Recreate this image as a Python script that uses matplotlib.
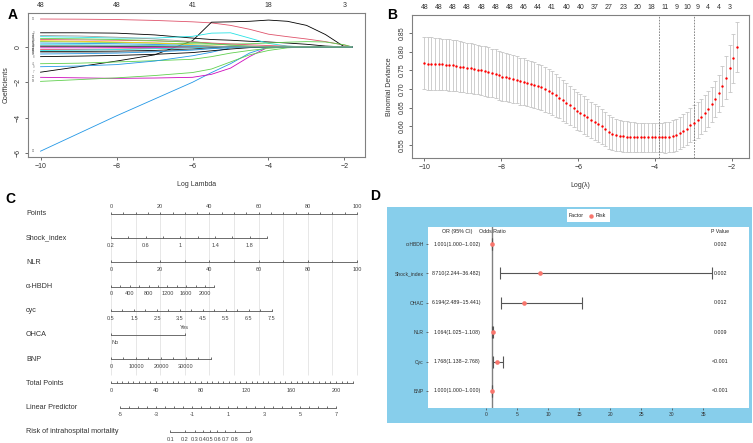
import numpy as np
import matplotlib
matplotlib.use("Agg")
import matplotlib.pyplot as plt
from matplotlib.patches import Rectangle
from matplotlib.lines import Line2D

plt.rcParams["font.family"] = ["Liberation Sans", "DejaVu Sans"]

# ---------------- A: lasso coefficient paths ----------------
lasso_loglam = [-10, -9, -8, -7, -6, -5.5, -5, -4.5, -4, -3.5, -3, -2.5, -2, -1.8]
coef_paths = [
    [1.58, 1.57, 1.55, 1.50, 1.42, 1.36, 1.22, 1.00, 0.72, 0.58, 0.45, 0.30, 0.10, 0.00],
    [-1.43, -1.12, -0.80, -0.45, 0.35, 1.40, 1.42, 1.45, 1.52, 1.45, 1.22, 0.70, 0.00, 0.00],
    [-5.90, -4.90, -3.90, -2.95, -2.00, -1.45, -0.95, -0.35, 0.00, 0.00, 0.00, 0.00, 0.00, 0.00],
    [-1.72, -1.75, -1.78, -1.76, -1.72, -1.55, -1.20, -0.55, 0.00, 0.00, 0.00, 0.00, 0.00, 0.00],
    [-1.95, -1.85, -1.75, -1.62, -1.45, -1.25, -0.85, -0.45, -0.20, -0.05, 0.00, 0.00, 0.00, 0.00],
    [-0.95, -0.92, -0.85, -0.78, -0.70, -0.55, -0.35, -0.20, -0.08, 0.00, 0.00, 0.00, 0.00, 0.00],
    [-1.12, -1.08, -1.00, -0.80, -0.50, -0.30, -0.05, 0.00, 0.00, 0.00, 0.00, 0.00, 0.00, 0.00],
    [0.80, 0.80, 0.78, 0.68, 0.50, 0.42, 0.38, 0.32, 0.28, 0.22, 0.15, 0.05, 0.00, 0.00],
    [0.58, 0.55, 0.50, 0.50, 0.60, 0.78, 0.80, 0.50, 0.20, 0.05, 0.00, 0.00, 0.00, 0.00],
    [0.30, 0.28, 0.25, 0.22, 0.18, 0.16, 0.16, 0.18, 0.22, 0.27, 0.30, 0.28, 0.12, 0.00],
    [0.65, 0.62, 0.55, 0.45, 0.30, 0.20, 0.10, 0.05, 0.00, 0.00, 0.00, 0.00, 0.00, 0.00],
    [0.42, 0.40, 0.38, 0.34, 0.28, 0.22, 0.17, 0.12, 0.08, 0.04, 0.00, 0.00, 0.00, 0.00],
    [0.35, 0.32, 0.28, 0.22, 0.12, 0.06, 0.02, 0.00, 0.00, 0.00, 0.00, 0.00, 0.00, 0.00],
    [0.22, 0.20, 0.18, 0.14, 0.08, 0.04, 0.00, 0.00, 0.00, 0.00, 0.00, 0.00, 0.00, 0.00],
    [0.12, 0.12, 0.10, 0.08, 0.04, 0.02, 0.00, 0.00, 0.00, 0.00, 0.00, 0.00, 0.00, 0.00],
    [0.04, 0.04, 0.03, 0.02, 0.01, 0.00, 0.00, 0.00, 0.00, 0.00, 0.00, 0.00, 0.00, 0.00],
    [-0.05, -0.05, -0.04, -0.03, -0.02, 0.00, 0.00, 0.00, 0.00, 0.00, 0.00, 0.00, 0.00, 0.00],
    [-0.15, -0.14, -0.12, -0.08, -0.04, -0.02, 0.00, 0.00, 0.00, 0.00, 0.00, 0.00, 0.00, 0.00],
    [-0.25, -0.25, -0.24, -0.20, -0.12, -0.05, 0.00, 0.00, 0.00, 0.00, 0.00, 0.00, 0.00, 0.00],
    [-0.32, -0.32, -0.30, -0.25, -0.15, -0.08, -0.03, 0.00, 0.00, 0.00, 0.00, 0.00, 0.00, 0.00],
    [-0.40, -0.38, -0.35, -0.28, -0.18, -0.10, -0.04, 0.00, 0.00, 0.00, 0.00, 0.00, 0.00, 0.00],
    [-0.55, -0.52, -0.48, -0.42, -0.32, -0.22, -0.12, -0.04, 0.00, 0.00, 0.00, 0.00, 0.00, 0.00],
    [-0.20, -0.18, -0.15, -0.10, -0.05, 0.00, 0.00, 0.00, 0.00, 0.00, 0.00, 0.00, 0.00, 0.00],
    [0.48, 0.46, 0.42, 0.36, 0.26, 0.18, 0.10, 0.04, 0.00, 0.00, 0.00, 0.00, 0.00, 0.00],
    [0.08, 0.07, 0.06, 0.05, 0.03, 0.01, 0.00, 0.00, 0.00, 0.00, 0.00, 0.00, 0.00, 0.00],
]
path_colors = ["#DF536B", "black", "#2297E6", "#CD0BBC", "#61D04F", "#61D04F", "#2297E6",
               "black", "#28E2E5", "#61D04F", "#9E9E9E", "#DF536B", "#F5C710", "#2297E6",
               "#28E2E5", "black", "#CD0BBC", "#DF536B", "black", "#9E9E9E", "#2297E6",
               "black", "#28E2E5", "#61D04F", "#9E9E9E"]
path_labels = ["12", "7", "30", "25", "18", "41", "9", "3", "22", "15", "33", "5", "27",
               "11", "44", "2", "38", "20", "14", "46", "29", "8", "36", "19", "48"]
a_top_at = [-10, -8, -6, -4, -2]
a_top_nz = ["48", "48", "41", "18", "3"]

# ---------------- B: cross-validation curve ----------------
cv_loglam = [-10.00, -9.91, -9.82, -9.72, -9.63, -9.54, -9.45, -9.35, -9.26, -9.17,
             -9.08, -8.99, -8.89, -8.80, -8.71, -8.62, -8.52, -8.43, -8.34, -8.25,
             -8.15, -8.06, -7.97, -7.88, -7.79, -7.69, -7.60, -7.51, -7.42, -7.32,
             -7.23, -7.14, -7.05, -6.96, -6.86, -6.77, -6.68, -6.59, -6.49, -6.40,
             -6.31, -6.22, -6.12, -6.03, -5.94, -5.85, -5.76, -5.66, -5.57, -5.48,
             -5.39, -5.29, -5.20, -5.11, -5.02, -4.92, -4.83, -4.74, -4.65, -4.56,
             -4.46, -4.37, -4.28, -4.19, -4.09, -4.00, -3.91, -3.82, -3.73, -3.63,
             -3.54, -3.45, -3.36, -3.26, -3.17, -3.08, -2.99, -2.89, -2.80, -2.71,
             -2.62, -2.53, -2.43, -2.34, -2.25, -2.16, -2.06, -1.97, -1.88]
cv_mean = [0.769, 0.768, 0.768, 0.767, 0.767, 0.766, 0.765, 0.764, 0.763, 0.762,
           0.760, 0.759, 0.757, 0.756, 0.754, 0.752, 0.750, 0.748, 0.745, 0.743,
           0.741, 0.736, 0.733, 0.731, 0.729, 0.726, 0.724, 0.721, 0.719, 0.716,
           0.713, 0.710, 0.707, 0.704, 0.699, 0.694, 0.689, 0.683, 0.677, 0.670,
           0.663, 0.656, 0.649, 0.642, 0.636, 0.630, 0.624, 0.617, 0.611, 0.605,
           0.600, 0.592, 0.585, 0.580, 0.577, 0.575, 0.573, 0.572, 0.571, 0.571,
           0.570, 0.570, 0.570, 0.570, 0.570, 0.570, 0.570, 0.570, 0.570, 0.571,
           0.574, 0.577, 0.583, 0.588, 0.594, 0.603, 0.610, 0.617, 0.626, 0.635,
           0.646, 0.659, 0.673, 0.688, 0.708, 0.730, 0.755, 0.782, 0.813]
cv_se = [0.070, 0.070, 0.070, 0.070, 0.069, 0.069, 0.069, 0.069, 0.068, 0.068,
         0.068, 0.068, 0.067, 0.067, 0.067, 0.066, 0.066, 0.066, 0.066, 0.065,
         0.065, 0.065, 0.065, 0.064, 0.064, 0.064, 0.063, 0.063, 0.063, 0.062,
         0.062, 0.062, 0.061, 0.061, 0.060, 0.059, 0.058, 0.057, 0.056, 0.055,
         0.054, 0.053, 0.052, 0.051, 0.050, 0.050, 0.049, 0.049, 0.048, 0.048,
         0.047, 0.046, 0.045, 0.044, 0.043, 0.042, 0.041, 0.041, 0.040, 0.040,
         0.040, 0.040, 0.040, 0.040, 0.040, 0.040, 0.040, 0.040, 0.041, 0.041,
         0.042, 0.042, 0.043, 0.044, 0.045, 0.046, 0.047, 0.048, 0.048, 0.048,
         0.048, 0.047, 0.047, 0.050, 0.054, 0.058, 0.062, 0.065, 0.067]
cv_nz_idx = [0, 4, 8, 12, 16, 20, 24, 28, 32, 36, 40, 44, 48, 52, 56, 60, 64, 68,
             71, 74, 77, 80, 83, 86]
cv_nz = ["48", "48", "48", "48", "48", "48", "48", "46", "44", "41", "40", "40",
         "37", "27", "23", "20", "18", "11", "9", "10", "9", "4", "4", "3"]
idx_min, idx_1se = 66, 76

# ---------------- C: nomogram ----------------
nomo_vars = ["Shock_index", "NLR", "α-HBDH", "cyc", "BNP"]
nomo_rows = [1, 2, 3, 4, 6]
nomo_value_range = [(0.2, 2.0), (0, 100), (0, 2200), (0.5, 7.5), (0, 40000)]
nomo_point_range = [(0, 63.5), (0, 100), (0, 42.0), (0, 65.4), (0, 40.6)]
nomo_tick_step = [0.2, 10, 200, 0.5, 5000]
nomo_labels = [[0.2, 0.6, 1.0, 1.4, 1.8],
               [0, 20, 40, 60, 80, 100],
               [0, 400, 800, 1200, 1600, 2000],
               [0.5, 1.5, 2.5, 3.5, 4.5, 5.5, 6.5, 7.5],
               [0, 10000, 20000, 30000]]
ohca_levels = ["No", "Yes"]
ohca_points = [0, 30]
total_points_max = 218.7
total_labels = [0, 40, 80, 120, 160, 200]
lp_range = (-5, 7)
lp_labels = [-5, -3, -1, 1, 3, 5, 7]
lp_intercept, lp_slope = -5.5, 1 / 16.0     # LP = -5.5 + total/16
risk_labels = [0.1, 0.2, 0.3, 0.4, 0.5, 0.6, 0.7, 0.8, 0.9]
row_names = ["Points", "Shock_index", "NLR", "α-HBDH", "cyc", "OHCA", "BNP",
             "Total Points", "Linear Predictor", "Risk of intrahospital mortality"]

# ---------------- D: forest plot ----------------
forest_vars = ["α-HBDH", "Shock_index", "OHAC", "NLR", "Cyc", "BNP"]
forest_or = [1.001, 8.710, 6.194, 1.064, 1.768, 1.000]
forest_lo = [1.000, 2.244, 2.489, 1.025, 1.138, 1.000]
forest_hi = [1.002, 36.482, 15.441, 1.108, 2.768, 1.000]
forest_p = ["0.002", "0.002", "0.012", "0.009", "<0.001", "<0.001"]

W, H = 753, 443
fig = plt.figure(figsize=(W / 100, H / 100), dpi=100)


def px_axes(l, t, r, b, **kw):
    return fig.add_axes([l / W, 1 - b / H, (r - l) / W, (b - t) / H], **kw)


def r_style(ax):
    for s in ax.spines.values():
        s.set_color("#808080")
        s.set_linewidth(0.8)
    ax.tick_params(colors="#555555", labelcolor="#333333", labelsize=5, length=2.5,
                   width=0.6, pad=2)


# ---- panel A
ax = px_axes(28, 13, 365, 157)
for path, col in zip(coef_paths, path_colors):
    ax.plot(lasso_loglam, path, color=col, lw=0.6)
for path, lab in zip(coef_paths, path_labels):
    ax.text(-10.18, path[0], lab, fontsize=2.0, color="#666666", ha="center", va="center")
ax.set_xlim(-10.33, -1.46)
ax.set_ylim(-6.23, 1.92)
ax.set_xticks([-10, -8, -6, -4, -2])
ax.set_yticks([-6, -4, -2, 0])
r_style(ax)
plt.setp(ax.get_yticklabels(), rotation=90, va="center")
ax.set_xlabel("Log Lambda", fontsize=5, color="#333333", labelpad=8)
ax.set_ylabel("Coefficients", fontsize=5, color="#333333", labelpad=4)
top = ax.twiny()
top.set_xlim(ax.get_xlim())
top.set_xticks(a_top_at)
top.set_xticklabels(a_top_nz)
top.tick_params(length=0, labelsize=5, labelcolor="#333333", pad=3)
for s in top.spines.values():
    s.set_visible(False)

# ---- panel B
ax = px_axes(412, 15, 749, 158)
ax.errorbar(cv_loglam, cv_mean, yerr=cv_se, fmt="none", ecolor="#c6c6c6",
            elinewidth=0.6, capsize=1.2, capthick=0.6, zorder=1)
ax.scatter(cv_loglam, cv_mean, s=3, color="red", lw=0, zorder=3)
for i in (idx_min, idx_1se):
    ax.axvline(cv_loglam[i], color="#777777", lw=0.6, ls=(0, (2, 1.5)), zorder=2)
ax.set_xlim(-10.325, -1.555)
ax.set_ylim(0.515, 0.898)
ax.set_xticks([-10, -8, -6, -4, -2])
ax.set_yticks([0.55, 0.60, 0.65, 0.70, 0.75, 0.80, 0.85])
ax.set_yticklabels(["0.55", "0.60", "0.65", "0.70", "0.75", "0.80", "0.85"])
r_style(ax)
plt.setp(ax.get_yticklabels(), rotation=90, va="center")
ax.set_xlabel("Log(λ)", fontsize=5, color="#333333", labelpad=8)
ax.set_ylabel("Binomial Deviance", fontsize=5, color="#333333", labelpad=4)
top = ax.twiny()
top.set_xlim(ax.get_xlim())
top.set_xticks([cv_loglam[i] for i in cv_nz_idx])
top.set_xticklabels(cv_nz)
top.tick_params(length=0, labelsize=5, labelcolor="#333333", pad=3)
for s in top.spines.values():
    s.set_visible(False)

# ---- panel C
ax = px_axes(0, 195, 385, 443)
ax.axis("off")
ax.set_xlim(-111 / 2.46, 274 / 2.46)
ax.set_ylim(9.463, -0.785)
line_kw = dict(color="#555555", lw=0.6)
tick_len = 0.08
lab_off = 0.3
tfs = 4


def scale(row, tick_pts, lab_pts, labels, above=False):
    ax.plot([min(tick_pts), max(tick_pts)], [row, row], **line_kw)
    ax.vlines(tick_pts, row - tick_len, row, **line_kw)
    off = -lab_off if above else lab_off
    for p, t in zip(lab_pts, labels):
        ax.text(p, row + off, t, fontsize=tfs, color="#444444", ha="center", va="center")


def fmt(v):
    return f"{v:g}"


# vertical guide lines every 10 points
ax.vlines(np.arange(0, 101, 10), 0, 6.65, color="#e3e3e3", lw=0.6, zorder=0)

# Points
scale(0, list(range(0, 101, 5)), list(range(0, 101, 20)),
      [str(v) for v in range(0, 101, 20)], above=True)

for name, row, (v0, v1), (p0, p1), step, labs in zip(
        nomo_vars, nomo_rows, nomo_value_range, nomo_point_range, nomo_tick_step, nomo_labels):
    to_pts = lambda v: p0 + (v - v0) / (v1 - v0) * (p1 - p0)
    n = int(round((v1 - v0) / step))
    ticks = [to_pts(v0 + k * step) for k in range(n + 1)]
    scale(row, ticks, [to_pts(v) for v in labs], [fmt(v) for v in labs])

# OHCA
ax.plot(ohca_points, [5, 5], **line_kw)
ax.vlines(ohca_points, 5 - tick_len, 5, **line_kw)
ax.text(ohca_points[0], 5 + lab_off, ohca_levels[0], fontsize=tfs, color="#444444",
        ha="left", va="center")
ax.text(ohca_points[1], 5 - lab_off, ohca_levels[1], fontsize=tfs, color="#444444",
        ha="center", va="center")

# Total points
tp_scale = 100 / total_points_max
scale(7, [v * tp_scale for v in range(0, 216, 5)],
      [v * tp_scale for v in total_labels], [str(v) for v in total_labels])

# Linear predictor
lp_to_pts = lambda lp: (lp - lp_intercept) / lp_slope * tp_scale
lp_ticks = np.arange(lp_range[0], lp_range[1] + 0.01, 0.5)
scale(8, [lp_to_pts(v) for v in lp_ticks], [lp_to_pts(v) for v in lp_labels],
      [str(v) for v in lp_labels])

# Risk
risk_pts = [lp_to_pts(np.log(r / (1 - r))) for r in risk_labels]
scale(9, risk_pts, risk_pts, [fmt(r) for r in risk_labels])

for i, name in enumerate(row_names):
    ax.text((26 - 111) / 2.46, i, name, fontsize=5.2, color="#333333", ha="left", va="center")

# ---- panel D
bg = px_axes(387, 207, 752, 423, zorder=0)
bg.set_facecolor("#87CEEB")
bg.set_xticks([])
bg.set_yticks([])
for s in bg.spines.values():
    s.set_visible(False)

ax = px_axes(428, 227, 749, 408, zorder=1)
ax.set_facecolor("white")
ypos = np.arange(len(forest_vars), 0, -1)
ax.axvline(1, color="#808080", lw=1.0, zorder=1)
xerr = [np.array(forest_or) - np.array(forest_lo), np.array(forest_hi) - np.array(forest_or)]
ax.errorbar(forest_or, ypos, xerr=xerr, fmt="none", ecolor="#555555", elinewidth=0.8,
            capsize=4, capthick=0.8, zorder=2)
ax.scatter(forest_or, ypos, s=11, color="#F8766D", lw=0, zorder=3)
for y, o, lo, hi, p in zip(ypos, forest_or, forest_lo, forest_hi, forest_p):
    ax.text(-4.7, y, f"{o:.3f}({lo:.3f}~{hi:.3f})", fontsize=3.8, color="#222222",
            ha="center", va="center")
    ax.text(37.8, y, p, fontsize=3.8, color="#222222", ha="center", va="center")
ax.text(-4.7, 6.44, "OR (95% CI)", fontsize=3.8, color="#222222", ha="center", va="center")
ax.text(1, 6.44, "Odds Ratio", fontsize=3.8, color="#222222", ha="center", va="center")
ax.text(37.8, 6.44, "P Value", fontsize=3.8, color="#222222", ha="center", va="center")
ax.set_xlim(-9.35, 42.4)
ax.set_ylim(0.42, 6.58)
ax.set_xticks(range(0, 36, 5))
ax.set_yticks(ypos)
ax.set_yticklabels(forest_vars)
for s in ax.spines.values():
    s.set_visible(False)
ax.tick_params(axis="both", labelsize=3.6, colors="#444444", labelcolor="#333333",
               length=1.5, width=0.5, pad=1.5)

# legend strip (drawn in its own small axes above the blue background)
leg = px_axes(567, 209, 610, 222, zorder=2)
leg.set_facecolor("white")
leg.set_xticks([])
leg.set_yticks([])
for s in leg.spines.values():
    s.set_visible(False)
leg.set_xlim(0, 43)
leg.set_ylim(0, 1)
leg.text(2, 0.5, "Factor", fontsize=3.8, color="#222222", va="center")
leg.add_line(Line2D([24], [0.5], marker="o", ms=3.2, color="#F8766D", mec="none"))
leg.text(29, 0.5, "Risk", fontsize=3.8, color="#222222", va="center")

# panel letters
for lab, x, y in [("A", 13, 15), ("B", 392, 15), ("C", 10, 199), ("D", 375, 196)]:
    fig.text(x / W, 1 - y / H, lab, fontsize=10, fontweight="bold", ha="center", va="center")

fig.savefig("out.png", dpi=100)
